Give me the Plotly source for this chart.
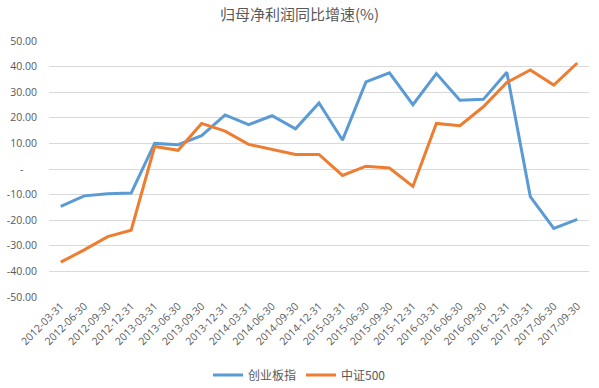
import plotly.graph_objects as go

dates = ["2012-03-31", "2012-06-30", "2012-09-30", "2012-12-31",
         "2013-03-31", "2013-06-30", "2013-09-30", "2013-12-31",
         "2014-03-31", "2014-06-30", "2014-09-30", "2014-12-31",
         "2015-03-31", "2015-06-30", "2015-09-30", "2015-12-31",
         "2016-03-31", "2016-06-30", "2016-09-30", "2016-12-31",
         "2017-03-31", "2017-06-30", "2017-09-30"]

chinext = [-14.6, -10.5, -9.7, -9.4, 10.0, 9.5, 13.0, 21.1, 17.3, 20.8, 15.7, 25.8,
           11.3, 34.0, 37.6, 25.1, 37.3, 26.9, 27.2, 37.8, -10.8, -23.2, -19.7]
csi500 = [-36.4, -31.6, -26.4, -23.9, 8.8, 7.3, 17.8, 14.8, 9.6, 7.7, 5.7, 5.7,
          -2.5, 1.1, 0.4, -6.8, 17.8, 16.9, 24.3, 33.8, 38.7, 32.8, 41.4]

series_names = ["创业板指", "中证500"]
y_ticks = [50, 40, 30, 20, 10, 0, -10, -20, -30, -40, -50]
y_ticktext = ["50.00", "40.00", "30.00", "20.00", "10.00", "-\u00a0\u00a0\u00a0\u00a0\u00a0",
              "-10.00", "-20.00", "-30.00", "-40.00", "-50.00"]

font_cjk = "Noto Sans CJK SC, Open Sans, sans-serif"
font_num = "Open Sans, Noto Sans CJK SC, sans-serif"
gray = "#595959"

fig = go.Figure()
fig.add_trace(go.Scatter(x=dates, y=chinext, name=series_names[0], mode="lines",
                         line=dict(color="#5B9BD5", width=3)))
fig.add_trace(go.Scatter(x=dates, y=csi500, name=series_names[1], mode="lines",
                         line=dict(color="#ED7D31", width=3)))

fig.update_layout(
    width=599, height=388,
    margin=dict(l=49, r=10, t=41, b=91, autoexpand=False),
    paper_bgcolor="white", plot_bgcolor="white",
    title=dict(text="归母净利润同比增速(%)", x=0.5, xanchor="center",
               y=1 - 15 / 388, yanchor="middle",
               font=dict(family=font_cjk, size=15, color=gray)),
    legend=dict(orientation="h", xref="container", x=0.5, xanchor="center",
                yref="container", y=13 / 388, yanchor="middle",
                font=dict(family=font_cjk, size=12, color=gray)),
    showlegend=True,
)
fig.update_xaxes(type="category", range=[-0.5, len(dates) - 0.5], tickangle=-45,
                 showgrid=False, showline=False, ticks="", zeroline=False,
                 automargin=False,
                 tickfont=dict(family=font_num, size=10.5, color=gray))
fig.update_yaxes(range=[-50, 50], tickvals=y_ticks, ticktext=y_ticktext,
                 showgrid=True, gridcolor="#D9D9D9", gridwidth=1, zeroline=False,
                 showline=False, ticks="", ticklabelstandoff=11, automargin=False,
                 tickfont=dict(family=font_num, size=10.5, color=gray))

fig.write_html("out.html", config={"displayModeBar": False},
               post_script="document.body.style.margin='0';")
